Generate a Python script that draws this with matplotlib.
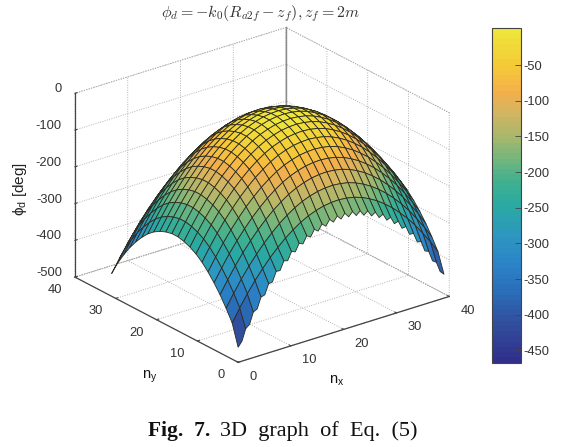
import numpy as np
import matplotlib
matplotlib.use('Agg')
import matplotlib.pyplot as plt
from matplotlib.colors import LinearSegmentedColormap, Normalize
from matplotlib.cm import ScalarMappable
from mpl_toolkits.mplot3d import proj3d
from mpl_toolkits.mplot3d.art3d import Poly3DCollection

plt.rcParams['font.family'] = ['Liberation Sans', 'DejaVu Sans']
plt.rcParams['axes.unicode_minus'] = False
plt.rcParams['mathtext.fontset'] = 'cm'

# phase profiles, one value per mesh node
phi_x = [-244, -210, -178, -149, -123, -99, -78, -59, -43, -29, -18, -10, -4, -1,
         0, -2, -6, -13, -23, -35, -50, -67, -87, -109, -134, -162, -192, -225]
phi_y = [-185, -157, -126, -98, -74, -53, -35, -21, -11, -4, 0,
         0, -4, -11, -21, -35, -53, -74, -98, -126, -157, -194]
# the near edge (first phi_y row) drops faster at its ends, and it is toothed
edge_drop = [-30, -20, -13, -8, -4, -1, 0, 0, 0, 0, 0, 0, 0, 0,
             0, 0, 0, 0, 0, 0, 0, 0, -1, -4, -8, -13, -19, -25]
edge_teeth = [-9, -11, -12, -12, -12, -12, -12, -12, -12, -12, -12, -12, -12, -12,
              -12, -12, -12, -12, -12, -12, -12, -12, -12, -12, -12, -11, -9]

x_ticks = [0, 10, 20, 30, 40]
y_ticks = [0, 10, 20, 30, 40]
z_ticks = [-500, -400, -300, -200, -100, 0]
cbar_ticks = [-450, -400, -350, -300, -250, -200, -150, -100, -50]
cbar_colors = ['#30308a', '#31519f', '#2a6db8', '#2b84c8', '#2e96c0', '#2aa9a3', '#3db090',
               '#74b67c', '#a6b86c', '#cdb564', '#f5b04b', '#f5c838', '#eee63a']
cbar_stops = [-467, -410, -370, -330, -290, -250, -215, -180, -150, -120, -85, -50, 2]

W, H = 569, 447
fig = plt.figure(figsize=(W / 100, H / 100), dpi=100)
ax = fig.add_axes([49 / W, 39 / H, 415 / W, 415 / H], projection='3d', proj_type='ortho')
ax.view_init(elev=23.8, azim=-127.7)
ax.set_box_aspect((267, 267, 201))
ax.patch.set_alpha(0)

vmin, vmax = cbar_stops[0], cbar_stops[-1]
stops = [(v - vmin) / (vmax - vmin) for v in cbar_stops]
cmap = LinearSegmentedColormap.from_list('paper', list(zip(stops, cbar_colors)), N=64)
norm = Normalize(vmin, vmax)

nx = np.linspace(0, 39, len(phi_x))
ny = np.linspace(0, 31, len(phi_y))
Z = np.add.outer(np.array(phi_y), np.array(phi_x)).astype(float)
Z[0, :] += np.array(edge_drop)

verts = []
vals = []
for j in range(len(ny) - 1):
    for i in range(len(nx) - 1):
        quad = [(nx[i], ny[j], Z[j, i])]
        if j == 0:
            # extra node half way along the edge makes the tooth
            quad.append((0.5 * (nx[i] + nx[i + 1]), ny[j], 0.5 * (Z[j, i] + Z[j, i + 1]) + edge_teeth[i]))
        quad += [(nx[i + 1], ny[j], Z[j, i + 1]), (nx[i + 1], ny[j + 1], Z[j + 1, i + 1]), (nx[i], ny[j + 1], Z[j + 1, i])]
        verts.append(quad)
        vals.append(Z[j:j + 2, i:i + 2].mean())
surf = Poly3DCollection(verts, facecolors=cmap(norm(np.array(vals))), edgecolors='#2b2b22', linewidths=0.6)
ax.add_collection3d(surf)

ax.set_xlim(0, 40, view_margin=0)
ax.set_ylim(0, 40, view_margin=0)
ax.set_zlim(-500, 0, view_margin=0)
ax.set_xticks(x_ticks)
ax.set_yticks(y_ticks)
ax.set_zticks(z_ticks)
ax.set_xticklabels([])
ax.set_yticklabels([])
ax.set_zticklabels([])

# back corner of the box
ax.plot([x_ticks[-1]] * 2, [y_ticks[-1]] * 2, [z_ticks[0], z_ticks[-1]], color='#8a8a8a', lw=1, zorder=0)

for axis in (ax.xaxis, ax.yaxis, ax.zaxis):
    axis.set_pane_color((1, 1, 1, 1))
    axis.pane.set_edgecolor('#a0a0a0')
    axis.pane.set_linewidth(0.7)
    axis.pane.set_linestyle(':')
    axis.line.set_color('#444444')
    axis.line.set_linewidth(0.9)
    axis._axinfo['grid'].update(color='#a8a8a8', linestyle=':', linewidth=0.65)
    axis._axinfo['tick'].update(inward_factor=0.0, outward_factor=0.12)
ax.tick_params(axis='both', color='#444444')


# tick labels sit at a fixed pixel offset from their tick, which pad cannot do in 3d
def tick_label(x, y, z, text, dx, dy, ha):
    px, py, _ = proj3d.proj_transform(x, y, z, ax.get_proj())
    ax.annotate(text, (px, py), xytext=(dx, dy), textcoords='offset pixels', ha=ha, va='center',
                fontsize=9.3, color='#333333', annotation_clip=False)


for v in x_ticks:
    tick_label(v, y_ticks[0], z_ticks[0], str(v), 11, -14.5, 'left')
for v in y_ticks:
    tick_label(x_ticks[0], v, z_ticks[0], str(v), -13, -13, 'right')
for v in z_ticks:
    tick_label(x_ticks[0], y_ticks[-1], v, str(v), -13, 4, 'right')

cax = fig.add_axes([492 / W, 1 - 362.5 / H, 29 / W, 334.5 / H])
cb = fig.colorbar(ScalarMappable(norm=norm, cmap=cmap), cax=cax)
cb.set_ticks(cbar_ticks)
cb.ax.tick_params(direction='in', length=4, width=0.6, color='#444444', labelsize=9.3, labelcolor='#333333', pad=2)
cb.outline.set_edgecolor('#444444')
cb.outline.set_linewidth(0.8)

fig.text(260 / W, 1 - 14 / H, r'$\phi_d = -k_0(R_{a2f} - z_f), z_f = 2m$', fontsize=11.5, color='#333333',
         ha='center', va='center')
fig.text(20 / W, 1 - 189 / H, r'$\mathregular{\phi_d}$ [deg]', fontsize=11, color='#222222', rotation=90,
         ha='center', va='center')
fig.text(337 / W, 1 - 381 / H, r'n$_{\mathregular{x}}$', fontsize=10.5, color='#111111', ha='center', va='center')
fig.text(150 / W, 1 - 377 / H, r'n$_{\mathregular{y}}$', fontsize=10.5, color='#111111', ha='center', va='center')

fig.text(148 / W, 1 - 431 / H, 'Fig.  7.', family='Liberation Serif', weight='bold', fontsize=15.5,
         color='#111111', ha='left', va='center')
fig.text(418 / W, 1 - 431 / H, '3D  graph  of  Eq.  (5)', family='Liberation Serif', fontsize=16,
         color='#111111', ha='right', va='center')

fig.savefig('out.png', dpi=100, facecolor='white')
